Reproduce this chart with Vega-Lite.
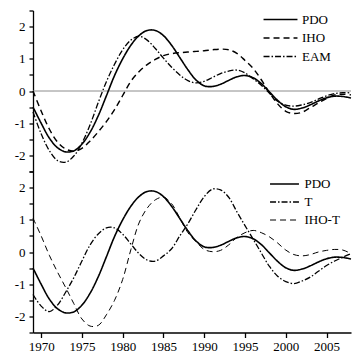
{
  "$schema": "https://vega.github.io/schema/vega-lite/v6.json",
  "padding": {"left": 14, "top": 4.5, "right": 5, "bottom": 0},
  "spacing": 0,
  "bounds": "flush",
  "resolve": {"scale": {"y": "independent", "strokeDash": "independent", "strokeWidth": "independent"}, "legend": {"strokeDash": "independent", "strokeWidth": "independent"}},
  "config": {
    "view": {"stroke": null},
    "font": "Liberation Serif",
    "axis": {"labelFont": "Liberation Serif", "labelFontSize": 13, "labelColor": "black", "domainColor": "black", "tickColor": "black", "grid": false, "title": null, "domainWidth": 1.3, "tickWidth": 1.3, "labelOverlap": false},
    "legend": {"title": null, "orient": "none", "padding": 0, "symbolType": "M-3,0H3", "symbolStrokeColor": "black", "symbolFillColor": "transparent", "symbolStrokeWidth": 1.4, "labelFont": "Liberation Serif", "labelFontSize": 13, "labelColor": "black"}
  },
  "datasets": {
    "top": [
      {"year":1969,"series":"PDO","value":-0.5},{"year":1970,"series":"PDO","value":-1.0},{"year":1971,"series":"PDO","value":-1.46},{"year":1972,"series":"PDO","value":-1.76},{"year":1973,"series":"PDO","value":-1.89},{"year":1974,"series":"PDO","value":-1.86},{"year":1975,"series":"PDO","value":-1.65},{"year":1976,"series":"PDO","value":-1.28},{"year":1977,"series":"PDO","value":-0.77},{"year":1978,"series":"PDO","value":-0.15},{"year":1979,"series":"PDO","value":0.48},{"year":1980,"series":"PDO","value":1.0},{"year":1981,"series":"PDO","value":1.42},{"year":1982,"series":"PDO","value":1.72},{"year":1983,"series":"PDO","value":1.88},{"year":1984,"series":"PDO","value":1.88},{"year":1985,"series":"PDO","value":1.72},{"year":1986,"series":"PDO","value":1.42},{"year":1987,"series":"PDO","value":1.04},{"year":1988,"series":"PDO","value":0.66},{"year":1989,"series":"PDO","value":0.34},{"year":1990,"series":"PDO","value":0.16},{"year":1991,"series":"PDO","value":0.14},{"year":1992,"series":"PDO","value":0.21},{"year":1993,"series":"PDO","value":0.33},{"year":1994,"series":"PDO","value":0.44},{"year":1995,"series":"PDO","value":0.48},{"year":1996,"series":"PDO","value":0.41},{"year":1997,"series":"PDO","value":0.23},{"year":1998,"series":"PDO","value":-0.03},{"year":1999,"series":"PDO","value":-0.29},{"year":2000,"series":"PDO","value":-0.49},{"year":2001,"series":"PDO","value":-0.57},{"year":2002,"series":"PDO","value":-0.53},{"year":2003,"series":"PDO","value":-0.43},{"year":2004,"series":"PDO","value":-0.31},{"year":2005,"series":"PDO","value":-0.21},{"year":2006,"series":"PDO","value":-0.16},{"year":2007,"series":"PDO","value":-0.17},{"year":2008,"series":"PDO","value":-0.22},
      {"year":1969,"series":"IHO","value":0.0},{"year":1970,"series":"IHO","value":-0.62},{"year":1971,"series":"IHO","value":-1.18},{"year":1972,"series":"IHO","value":-1.58},{"year":1973,"series":"IHO","value":-1.8},{"year":1974,"series":"IHO","value":-1.87},{"year":1975,"series":"IHO","value":-1.78},{"year":1976,"series":"IHO","value":-1.55},{"year":1977,"series":"IHO","value":-1.27},{"year":1978,"series":"IHO","value":-0.95},{"year":1979,"series":"IHO","value":-0.58},{"year":1980,"series":"IHO","value":-0.14},{"year":1981,"series":"IHO","value":0.3},{"year":1982,"series":"IHO","value":0.6},{"year":1983,"series":"IHO","value":0.82},{"year":1984,"series":"IHO","value":0.98},{"year":1985,"series":"IHO","value":1.1},{"year":1986,"series":"IHO","value":1.16},{"year":1987,"series":"IHO","value":1.19},{"year":1988,"series":"IHO","value":1.21},{"year":1989,"series":"IHO","value":1.23},{"year":1990,"series":"IHO","value":1.25},{"year":1991,"series":"IHO","value":1.28},{"year":1992,"series":"IHO","value":1.3},{"year":1993,"series":"IHO","value":1.28},{"year":1994,"series":"IHO","value":1.17},{"year":1995,"series":"IHO","value":0.95},{"year":1996,"series":"IHO","value":0.7},{"year":1997,"series":"IHO","value":0.35},{"year":1998,"series":"IHO","value":-0.05},{"year":1999,"series":"IHO","value":-0.4},{"year":2000,"series":"IHO","value":-0.63},{"year":2001,"series":"IHO","value":-0.7},{"year":2002,"series":"IHO","value":-0.66},{"year":2003,"series":"IHO","value":-0.52},{"year":2004,"series":"IHO","value":-0.37},{"year":2005,"series":"IHO","value":-0.23},{"year":2006,"series":"IHO","value":-0.12},{"year":2007,"series":"IHO","value":-0.1},{"year":2008,"series":"IHO","value":-0.12},
      {"year":1969,"series":"EAM","value":-0.65},{"year":1970,"series":"EAM","value":-1.33},{"year":1971,"series":"EAM","value":-1.85},{"year":1972,"series":"EAM","value":-2.16},{"year":1973,"series":"EAM","value":-2.21},{"year":1974,"series":"EAM","value":-2.02},{"year":1975,"series":"EAM","value":-1.62},{"year":1976,"series":"EAM","value":-1.05},{"year":1977,"series":"EAM","value":-0.36},{"year":1978,"series":"EAM","value":0.29},{"year":1979,"series":"EAM","value":0.83},{"year":1980,"series":"EAM","value":1.28},{"year":1981,"series":"EAM","value":1.58},{"year":1982,"series":"EAM","value":1.7},{"year":1983,"series":"EAM","value":1.58},{"year":1984,"series":"EAM","value":1.32},{"year":1985,"series":"EAM","value":1.02},{"year":1986,"series":"EAM","value":0.74},{"year":1987,"series":"EAM","value":0.5},{"year":1988,"series":"EAM","value":0.32},{"year":1989,"series":"EAM","value":0.25},{"year":1990,"series":"EAM","value":0.3},{"year":1991,"series":"EAM","value":0.42},{"year":1992,"series":"EAM","value":0.54},{"year":1993,"series":"EAM","value":0.62},{"year":1994,"series":"EAM","value":0.65},{"year":1995,"series":"EAM","value":0.56},{"year":1996,"series":"EAM","value":0.38},{"year":1997,"series":"EAM","value":0.18},{"year":1998,"series":"EAM","value":-0.07},{"year":1999,"series":"EAM","value":-0.32},{"year":2000,"series":"EAM","value":-0.44},{"year":2001,"series":"EAM","value":-0.47},{"year":2002,"series":"EAM","value":-0.43},{"year":2003,"series":"EAM","value":-0.36},{"year":2004,"series":"EAM","value":-0.25},{"year":2005,"series":"EAM","value":-0.15},{"year":2006,"series":"EAM","value":-0.08},{"year":2007,"series":"EAM","value":-0.05},{"year":2008,"series":"EAM","value":-0.06}
    ],
    "bottom": [
      {"year":1969,"series":"PDO","value":-0.5},{"year":1970,"series":"PDO","value":-1.0},{"year":1971,"series":"PDO","value":-1.46},{"year":1972,"series":"PDO","value":-1.76},{"year":1973,"series":"PDO","value":-1.89},{"year":1974,"series":"PDO","value":-1.86},{"year":1975,"series":"PDO","value":-1.65},{"year":1976,"series":"PDO","value":-1.28},{"year":1977,"series":"PDO","value":-0.77},{"year":1978,"series":"PDO","value":-0.15},{"year":1979,"series":"PDO","value":0.48},{"year":1980,"series":"PDO","value":1.0},{"year":1981,"series":"PDO","value":1.42},{"year":1982,"series":"PDO","value":1.72},{"year":1983,"series":"PDO","value":1.88},{"year":1984,"series":"PDO","value":1.88},{"year":1985,"series":"PDO","value":1.72},{"year":1986,"series":"PDO","value":1.42},{"year":1987,"series":"PDO","value":1.04},{"year":1988,"series":"PDO","value":0.66},{"year":1989,"series":"PDO","value":0.34},{"year":1990,"series":"PDO","value":0.16},{"year":1991,"series":"PDO","value":0.14},{"year":1992,"series":"PDO","value":0.21},{"year":1993,"series":"PDO","value":0.33},{"year":1994,"series":"PDO","value":0.44},{"year":1995,"series":"PDO","value":0.48},{"year":1996,"series":"PDO","value":0.41},{"year":1997,"series":"PDO","value":0.23},{"year":1998,"series":"PDO","value":-0.03},{"year":1999,"series":"PDO","value":-0.29},{"year":2000,"series":"PDO","value":-0.49},{"year":2001,"series":"PDO","value":-0.57},{"year":2002,"series":"PDO","value":-0.53},{"year":2003,"series":"PDO","value":-0.43},{"year":2004,"series":"PDO","value":-0.31},{"year":2005,"series":"PDO","value":-0.21},{"year":2006,"series":"PDO","value":-0.16},{"year":2007,"series":"PDO","value":-0.17},{"year":2008,"series":"PDO","value":-0.22},
      {"year":1969,"series":"T","value":-1.32},{"year":1970,"series":"T","value":-1.68},{"year":1971,"series":"T","value":-1.85},{"year":1972,"series":"T","value":-1.65},{"year":1973,"series":"T","value":-1.25},{"year":1974,"series":"T","value":-0.8},{"year":1975,"series":"T","value":-0.28},{"year":1976,"series":"T","value":0.22},{"year":1977,"series":"T","value":0.56},{"year":1978,"series":"T","value":0.75},{"year":1979,"series":"T","value":0.75},{"year":1980,"series":"T","value":0.55},{"year":1981,"series":"T","value":0.25},{"year":1982,"series":"T","value":-0.05},{"year":1983,"series":"T","value":-0.25},{"year":1984,"series":"T","value":-0.28},{"year":1985,"series":"T","value":-0.12},{"year":1986,"series":"T","value":0.1},{"year":1987,"series":"T","value":0.5},{"year":1988,"series":"T","value":0.88},{"year":1989,"series":"T","value":1.32},{"year":1990,"series":"T","value":1.72},{"year":1991,"series":"T","value":1.95},{"year":1992,"series":"T","value":1.93},{"year":1993,"series":"T","value":1.7},{"year":1994,"series":"T","value":1.25},{"year":1995,"series":"T","value":0.82},{"year":1996,"series":"T","value":0.4},{"year":1997,"series":"T","value":-0.03},{"year":1998,"series":"T","value":-0.45},{"year":1999,"series":"T","value":-0.75},{"year":2000,"series":"T","value":-0.92},{"year":2001,"series":"T","value":-0.98},{"year":2002,"series":"T","value":-0.9},{"year":2003,"series":"T","value":-0.78},{"year":2004,"series":"T","value":-0.6},{"year":2005,"series":"T","value":-0.42},{"year":2006,"series":"T","value":-0.28},{"year":2007,"series":"T","value":-0.16},{"year":2008,"series":"T","value":-0.05},
      {"year":1969,"series":"IHO-T","value":1.05},{"year":1970,"series":"IHO-T","value":0.5},{"year":1971,"series":"IHO-T","value":-0.1},{"year":1972,"series":"IHO-T","value":-0.62},{"year":1973,"series":"IHO-T","value":-1.1},{"year":1974,"series":"IHO-T","value":-1.6},{"year":1975,"series":"IHO-T","value":-2.08},{"year":1976,"series":"IHO-T","value":-2.3},{"year":1977,"series":"IHO-T","value":-2.28},{"year":1978,"series":"IHO-T","value":-1.95},{"year":1979,"series":"IHO-T","value":-1.5},{"year":1980,"series":"IHO-T","value":-0.85},{"year":1981,"series":"IHO-T","value":0.07},{"year":1982,"series":"IHO-T","value":0.9},{"year":1983,"series":"IHO-T","value":1.36},{"year":1984,"series":"IHO-T","value":1.62},{"year":1985,"series":"IHO-T","value":1.7},{"year":1986,"series":"IHO-T","value":1.5},{"year":1987,"series":"IHO-T","value":1.05},{"year":1988,"series":"IHO-T","value":0.6},{"year":1989,"series":"IHO-T","value":0.32},{"year":1990,"series":"IHO-T","value":0.08},{"year":1991,"series":"IHO-T","value":0.01},{"year":1992,"series":"IHO-T","value":0.05},{"year":1993,"series":"IHO-T","value":0.22},{"year":1994,"series":"IHO-T","value":0.45},{"year":1995,"series":"IHO-T","value":0.6},{"year":1996,"series":"IHO-T","value":0.67},{"year":1997,"series":"IHO-T","value":0.6},{"year":1998,"series":"IHO-T","value":0.47},{"year":1999,"series":"IHO-T","value":0.28},{"year":2000,"series":"IHO-T","value":0.06},{"year":2001,"series":"IHO-T","value":-0.08},{"year":2002,"series":"IHO-T","value":-0.12},{"year":2003,"series":"IHO-T","value":-0.08},{"year":2004,"series":"IHO-T","value":0.0},{"year":2005,"series":"IHO-T","value":0.05},{"year":2006,"series":"IHO-T","value":0.08},{"year":2007,"series":"IHO-T","value":0.06},{"year":2008,"series":"IHO-T","value":-0.05}
    ]
  },
  "vconcat": [
    {
      "width": 318,
      "height": 161,
      "layer": [
        {
          "data": {"values": [{"zero": 0}]},
          "mark": {"type": "rule", "color": "#8c8c8c", "strokeWidth": 1},
          "encoding": {"y": {"field": "zero", "type": "quantitative", "scale": {"domain": [-2.5, 2.5], "nice": false},
                             "axis": {"title": null, "values": [-2.5,-2,-1.5,-1,-0.5,0,0.5,1,1.5,2,2.5], "labelExpr": "datum.value % 1 === 0 ? toString(datum.value) : ''", "tickSize": 4, "labelPadding": 4}}}
        },
        {
          "data": {"name": "top"},
          "mark": {"type": "line", "interpolate": "catmull-rom", "color": "black"},
          "encoding": {
            "x": {"field": "year", "type": "quantitative", "scale": {"domain": [1969, 2008], "nice": false, "zero": false}, "axis": null},
            "y": {"field": "value", "type": "quantitative", "scale": {"domain": [-2.5, 2.5], "nice": false},
                  "axis": {"title": null, "values": [-2.5,-2,-1.5,-1,-0.5,0,0.5,1,1.5,2,2.5], "labelExpr": "datum.value % 1 === 0 ? toString(datum.value) : ''", "tickSize": 4, "labelPadding": 4}},
            "strokeDash": {"field": "series", "type": "nominal",
                           "scale": {"domain": ["PDO", "IHO", "EAM"], "range": [[1, 0], [6, 4], [6, 2, 1.5, 2]]},
                           "legend": {"legendX": 241, "legendY": 2.5, "symbolSize": 128, "labelOffset": 15, "rowPadding": 4.5}},
            "strokeWidth": {"field": "series", "type": "nominal", "scale": {"domain": ["PDO", "IHO", "EAM"], "range": [1.6, 1.3, 1.0]}, "legend": null}
          }
        }
      ]
    },
    {
      "width": 318,
      "height": 161,
      "data": {"name": "bottom"},
      "mark": {"type": "line", "interpolate": "catmull-rom", "color": "black"},
      "encoding": {
        "x": {"field": "year", "type": "quantitative", "scale": {"domain": [1969, 2008], "nice": false, "zero": false},
              "axis": {"title": null, "values": [1970,1975,1980,1985,1990,1995,2000,2005], "format": "d", "tickSize": 5, "labelPadding": 3}},
        "y": {"field": "value", "type": "quantitative", "scale": {"domain": [-2.5, 2.5], "nice": false},
              "axis": {"title": null, "values": [-2.5,-2,-1.5,-1,-0.5,0,0.5,1,1.5,2,2.5], "labelExpr": "datum.value % 1 === 0 ? toString(datum.value) : ''", "tickSize": 4, "labelPadding": 4}},
        "strokeDash": {"field": "series", "type": "nominal",
                       "scale": {"domain": ["PDO", "T", "IHO-T"], "range": [[1, 0], [6, 2, 1.5, 2], [6, 4]]},
                       "legend": {"legendX": 245, "legendY": 6, "symbolSize": 93, "labelOffset": 13.5, "rowPadding": 4}},
        "strokeWidth": {"field": "series", "type": "nominal", "scale": {"domain": ["PDO", "T", "IHO-T"], "range": [1.6, 1.0, 1.3]}, "legend": null}
      }
    }
  ]
}
